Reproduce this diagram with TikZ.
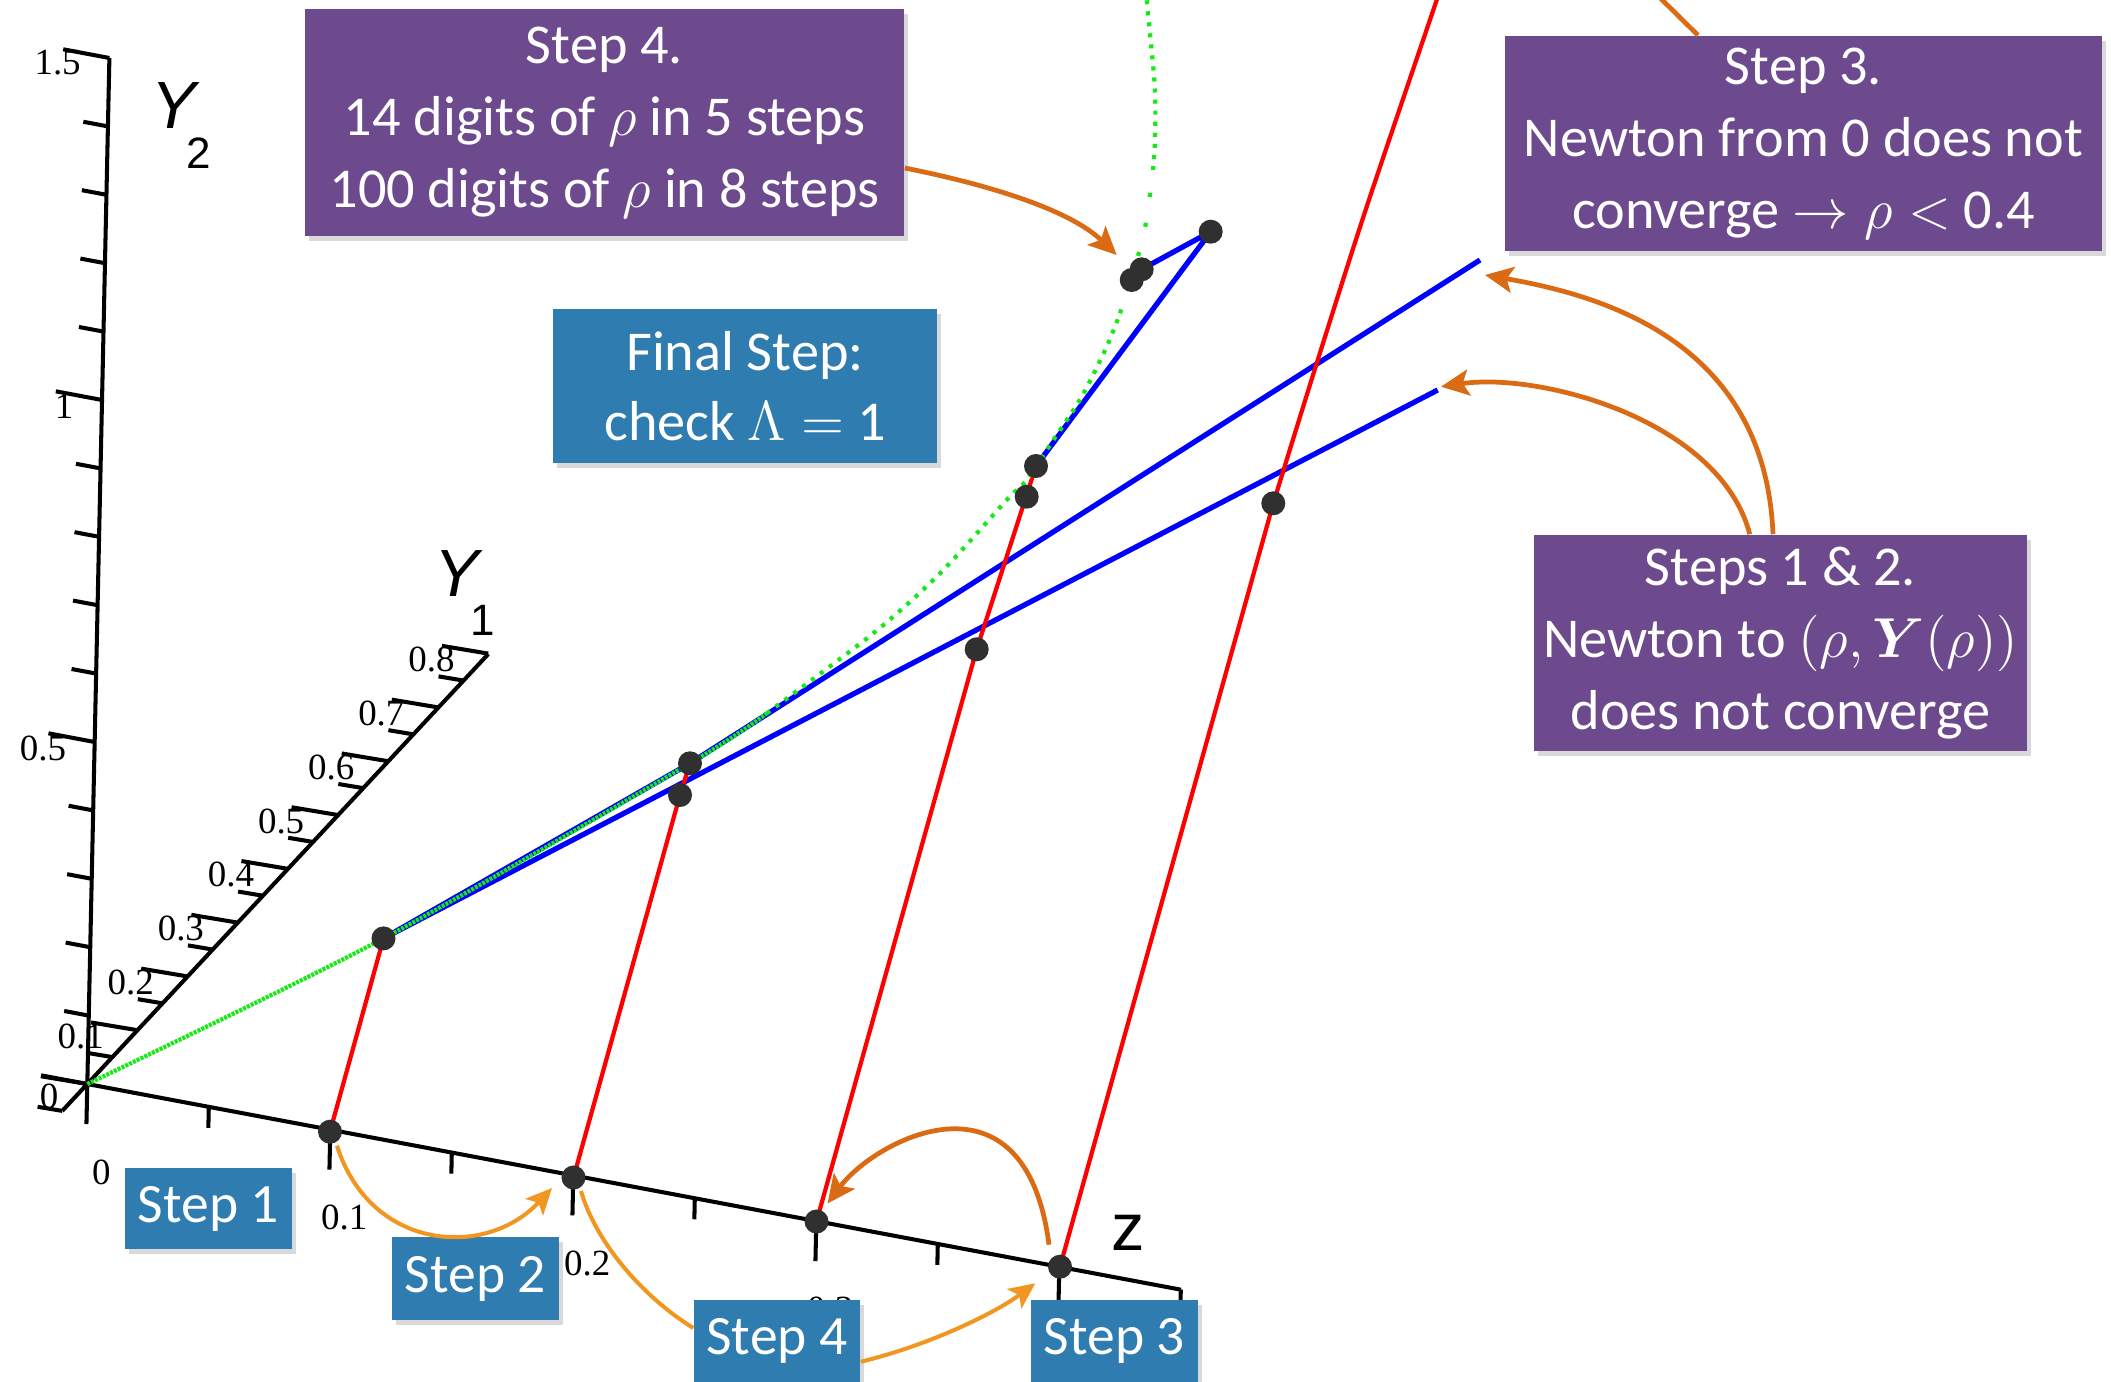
\documentclass[tikz,border=0pt]{standalone}
\usepackage{fix-cm}
\usepackage{amsmath}
\usepackage{bm}
\usepackage{fontspec}
\setmainfont{Carlito}
\newfontfamily\tickfont{Liberation Serif}
\newfontfamily\axisfont{Liberation Sans}
\usetikzlibrary{arrows.meta,shadows}

\definecolor{notepurple}{RGB}{108,74,141}
\definecolor{noteblue}{RGB}{46,124,176}
\definecolor{arrowdark}{RGB}{218,107,20}
\definecolor{arrowlight}{RGB}{241,151,33}
\definecolor{solgreen}{RGB}{20,235,20}
\definecolor{dotgray}{RGB}{48,48,48}

\pgfdeclarelayer{axes}
\pgfdeclarelayer{curves}
\pgfsetlayers{axes,curves,main}

\begin{document}
\begin{tikzpicture}[x=0.01cm,y=-0.01cm,
  axisline/.style={line width=1.15pt},
  tickline/.style={line width=1.15pt},
  ticklab/.style={font=\tickfont\fontsize{10.5}{12}\selectfont,inner sep=0pt},
  axname/.style={font=\axisfont\fontsize{19}{22}\selectfont,inner sep=0pt},
  axsub/.style={font=\axisfont\fontsize{12.5}{14}\selectfont,inner sep=0pt},
  pt/.style={circle,fill=dotgray,minimum size=0.24cm,inner sep=0pt},
  redline/.style={red,line width=1.2pt},
  blueline/.style={blue,line width=1.5pt,line join=round},
  greenline/.style={solgreen,line width=1.2pt},
  note/.style={text=white,align=center,inner sep=0pt,
     drop shadow={shadow xshift=0.04cm,shadow yshift=-0.05cm,opacity=0.3}},
  purplenote/.style={note,fill=notepurple,font=\fontsize{16}{20.5}\selectfont},
  bluenote/.style={note,fill=noteblue,font=\fontsize{15.8}{20.5}\selectfont},
  darkarrow/.style={arrowdark,line width=1.35pt,-{Stealth[length=0.28cm,width=0.26cm,inset=0.06cm]}},
  lightarrow/.style={arrowlight,line width=1.15pt,-{Stealth[length=0.26cm,width=0.24cm,inset=0.06cm]}},
  darkline/.style={arrowdark,line width=1.35pt},
  lightline/.style={arrowlight,line width=1.15pt},
]
\useasboundingbox (0,0) rectangle (2111,1382);
\clip (0,0) rectangle (2111,1382);

% axis end points
\coordinate (O) at (87.3,1084);
\coordinate (zend) at (1181,1289.7);
\coordinate (y2top) at (109.4,58);
\coordinate (y1top) at (488.3,654);
\coordinate (y1bot) at (62.24,1110.9);

% iterates and intersections
\node[pt] (z1) at (330,1131.7) {};
\node[pt] (z2) at (573.5,1177.5) {};
\node[pt] (z3) at (816.5,1221.5) {};
\node[pt] (z4) at (1060,1266.7) {};
\node[pt] (d1) at (383.5,938.4) {};
\node[pt] (d2b) at (680,795) {};
\node[pt] (d2a) at (690,763.3) {};
\node[pt] (d3a) at (976.7,649.3) {};
\node[pt] (d3b) at (1026.7,496.7) {};
\node[pt] (d3c) at (1036,466) {};
\node[pt] (d4) at (1273.3,503.3) {};
\node[pt] (pb) at (1141.7,269.3) {};
\node[pt] (pa) at (1131.7,280) {};
\node[pt] (ptop) at (1210.7,231.7) {};

% free ends of the tangent lines
\coordinate (bu1) at (1437.7,390);
\coordinate (bu2) at (1480,260);

\begin{pgfonlayer}{axes}
\begin{scope}
\clip (0,0) rectangle (2111,1382);
% z axis
\draw[axisline] (O) -- (zend);
\foreach \i in {0,...,9}{
  \pgfmathsetmacro{\tl}{mod(\i,2)==0 ? 40 : 21}
  \draw[tickline] ({87.3+121.5*\i},{1084+22.85*\i}) -- ++({-0.0215*\tl},{\tl});
}
\foreach \i/\t in {0/0,2/0.1,4/0.2,6/0.3}{
  \node[ticklab] (zl\i) at ({87.3+121.5*\i+14},{1084+22.85*\i+88}) {\t};
}
% Y2 axis
\draw[axisline] (O) -- (y2top);
\foreach \i in {0,...,15}{
  \pgfmathsetmacro{\tl}{mod(\i,5)==0 ? 47 : 25}
  \draw[tickline] ({87.3+1.473*\i},{1084-68.4*\i}) -- ++({-0.983*\tl},{-0.185*\tl});
}
\node[ticklab,anchor=east] (y2l0) at (59,1096) {0};
\node[ticklab,anchor=east] (y2l5) at (66.7,748) {0.5};
\node[ticklab,anchor=east] (y2l10) at (74,406) {1};
\node[ticklab,anchor=east] (y2l15) at (81.4,62.5) {1.5};
% Y1 axis
\draw[axisline] (y1bot) -- (y1top);
\foreach \i in {-1,...,16}{
  \pgfmathsetmacro{\tl}{mod(\i,2)==0 ? 47 : 25}
  \draw[tickline] ({87.3+25.06*\i},{1084-26.9*\i}) -- ++({-0.986*\tl},{-0.165*\tl});
}
\foreach \i/\t in {2/0.1,4/0.2,6/0.3,8/0.4,10/0.5,12/0.6,14/0.7,16/0.8}{
  \node[ticklab,anchor=east] (y1l\i) at ({87.3+25.06*\i-33},{1084-26.9*\i+6}) {\t};
}
% axis names
\node[axname,font=\axisfont\fontsize{19}{22}\selectfont\itshape] (y2name) at (173.5,106) {Y};
\node[axsub] (y2sub) at (199,153) {2};
\node[axname,font=\axisfont\fontsize{19}{22}\selectfont\itshape] (y1name) at (456.5,573.7) {Y};
\node[axsub] (y1sub) at (482.5,620) {1};
\node[axname] (zname) at (1128.3,1233.3) {z};
\end{scope}
\end{pgfonlayer}

\begin{pgfonlayer}{curves}
\begin{scope}
\clip (0,0) rectangle (2111,1382);
% Newton tangent lines
\draw[blueline] (d1.center) -- (bu1);
\draw[blueline] (d2a.center) -- (bu2);
\draw[blueline] (d1.center) -- (d2a.center);
\draw[blueline] (d3c.center) -- (ptop.center) -- (pb.center);
% lines from the z axis
\draw[redline] (z1.center) -- (d1.center);
\draw[redline] (z2.center) -- (d2b.center) -- (d2a.center);
\draw[redline] (z3.center) -- (d3a.center) -- (d3c.center);
\draw[redline] (z4.center) -- (d4.center);
\draw[redline] plot[smooth] coordinates {(d4.center) (1316.7,363.3) (1366.7,206.7) (1436.7,0) (1450,-40)};
% solution curve
\draw[greenline,dash pattern=on 0.85pt off 0.35pt] plot[smooth] coordinates {(O) (d1.center) (d2a.center) (766.7,713.3)};
\draw[greenline,dash pattern=on 1.15pt off 2pt] plot[smooth] coordinates {(766.7,713.3) (873.3,633.3) (940,573.3) (1006.7,500) (1026.7,480) (1053.3,440) (1081.7,396.7) (1106.7,346.7) (1120,313.3)};
\draw[greenline,dash pattern=on 1.15pt off 7.4pt] plot[smooth] coordinates {(1120,313.3) (1140.7,246.7) (1147.7,211.7) (1153,170)};
\draw[greenline,dash pattern=on 1.15pt off 2pt] plot[smooth] coordinates {(1153,170) (1155,140) (1155,90) (1150,33.3) (1146.7,0) (1145,-40)};
\end{scope}
\end{pgfonlayer}

% notes
\node[purplenote,minimum width=5.99cm,minimum height=2.27cm] (s4note) at (604.5,122.5)
  {Step 4.\\14 digits of $\rho$ in 5 steps\\100 digits of $\rho$ in 8 steps};
\node[bluenote,font=\fontsize{16}{20}\selectfont,minimum width=3.84cm,minimum height=1.54cm] (finalnote) at (745,386)
  {Final Step:\\check $\Lambda =$ 1};
\node[purplenote,minimum width=5.97cm,minimum height=2.15cm] (s3note) at (1803.5,143.5)
  {Step 3.\\Newton from 0 does not\\converge $\rightarrow \rho <$ 0.4};
\node[purplenote,minimum width=4.93cm,minimum height=2.16cm] (s12note) at (1780.5,643)
  {Steps 1 \& 2.\\Newton to $(\rho,\bm{Y}(\rho))$\\does not converge};
\node[bluenote,minimum width=1.67cm,minimum height=0.81cm] (b1) at (208.5,1208.5) {Step 1};
\node[bluenote,minimum width=1.67cm,minimum height=0.83cm] (b2) at (475.5,1278.5) {Step 2};
\node[bluenote,minimum width=1.66cm,minimum height=0.82cm] (b4) at (777,1341) {Step 4};
\node[bluenote,minimum width=1.67cm,minimum height=0.82cm] (b3) at (1114.5,1341) {Step 3};

% arrows
\draw[darkarrow] ([yshift=-0.455cm]s4note.east) .. controls (990,185) and (1070,210) .. ([shift={(-15,-25)}]pa.center);
\draw[darkline] ([xshift=-1.055cm]s3note.north) -- (1640,-22);
\draw[darkarrow] ([xshift=-0.075cm]s12note.north) .. controls (1765,340) and (1600,295) .. ([shift={(5,15)}]bu2);
\draw[darkarrow] ([xshift=-0.307cm]s12note.north) .. controls (1720,420) and (1540,372) .. ([shift={(3.3,-3.3)}]bu1);
\draw[darkarrow] ([shift={(-11,-22)}]z4.center) .. controls (1025,1060) and (875,1140) .. ([shift={(11,-18)}]z3.center);
\draw[lightarrow] ([shift={(7,14)}]z1.center) .. controls (370,1250) and (485,1260) .. ([shift={(-21.5,10.5)}]z2.center);
\draw[lightline] ([shift={(7.5,13.5)}]z2.center) .. controls (595,1240) and (640,1295) .. ([yshift=0.13cm]b4.west);
\draw[lightarrow] ([yshift=-0.207cm]b4.east) .. controls (930,1345) and (995,1313) .. ([shift={(-24.7,16.6)}]z4.center);
\end{tikzpicture}
\end{document}
